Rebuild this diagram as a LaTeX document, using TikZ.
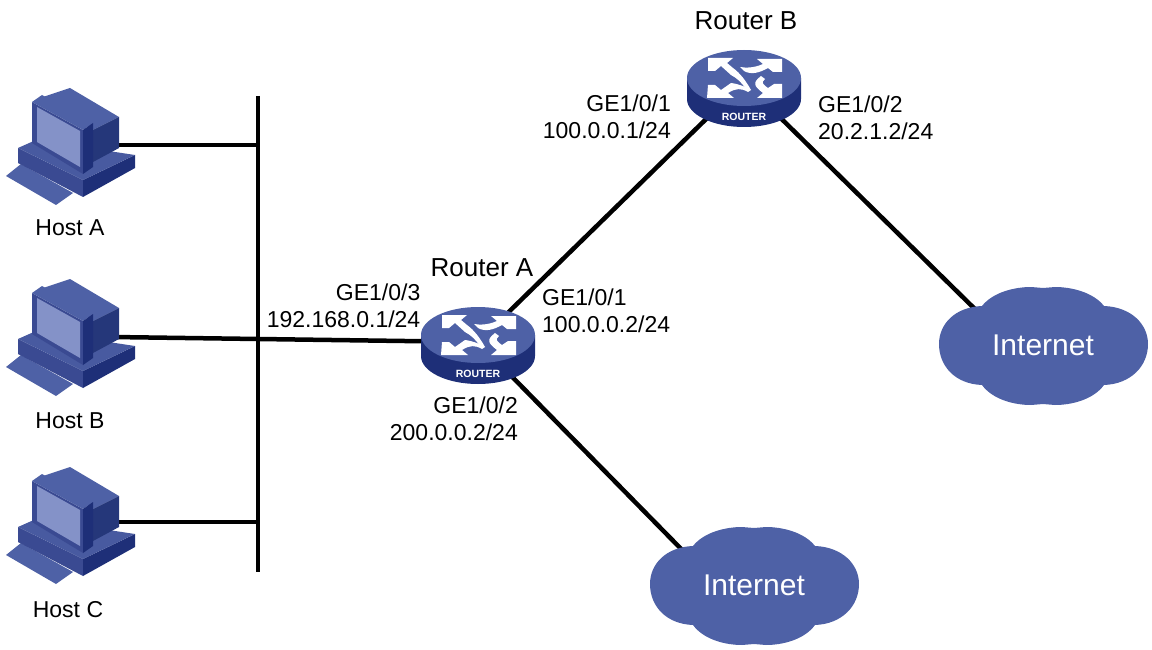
\documentclass[tikz,border=0pt]{standalone}
\usepackage{fontspec}
\setmainfont{Liberation Sans}
\definecolor{iconblue}{HTML}{4E61A6}
\definecolor{icondark}{HTML}{1E2F78}
\definecolor{iconmid}{HTML}{3A4A92}
\definecolor{iconnavy}{HTML}{25377A}
\definecolor{iconscreen}{HTML}{8492C8}
\tikzset{
 wire/.style={line width=4.5pt,black},
 lab/.style={font=\fontsize{23}{27}\selectfont,inner sep=0pt,text=black},
 hostcomputer/.pic={
  \fill[iconblue] (6,96)--(21,84)--(73,113)--(56,125)--cycle;
  \fill[iconmid] (18,68)--(83,100)--(83,117)--(18,83)--cycle;
  \fill[icondark] (83,100)--(135,75)--(135,88)--(83,117)--cycle;
  \fill[iconblue!70!iconmid] (18,68)--(36,60)--(135,75)--(83,100)--cycle;
  \fill[iconblue] (43,17)--(70,8)--(119,37)--(93,50)--cycle;
  \fill[iconnavy] (93,50)--(119,37)--(119,68)--(93,82)--cycle;
  \fill[iconmid] (32,22)--(83,50)--(83,94)--(32,63)--cycle;
  \fill[iconblue] (32,22)--(42,15)--(93,43)--(83,50)--cycle;
  \fill[icondark] (83,50)--(93,43)--(93,87)--(83,94)--cycle;
  \fill[iconscreen] (37,27)--(80,51)--(80,87)--(37,62)--cycle;
 },
 routericon/.pic={
  \fill[icondark] (-57,0) -- (-57,21) arc[start angle=180,end angle=0,x radius=57,y radius=28] -- (57,0) -- cycle;
  \fill[iconblue] (0,0) ellipse[x radius=57,y radius=28];
  \fill[white] (-36,-20)--(-11,-20)--(-17,-15)--(-11,-10) .. controls (-4,-5) and (2,3) .. (7,12)--(2,11) .. controls (-2,5) and (-7,0) .. (-13,-3)--(-23,-12)--(-29,-7)--(-36,-7)--cycle;
  \fill[white] (38,-19)--(13,-19)--(19,-14) .. controls (10,-10) and (2,-10) .. (-4,-11)--(0,-7) .. controls (7,-3) and (15,-5) .. (24,-10)--(29,-6)--(38,-6)--cycle;
  \fill[white] (-37,20)--(-36,7)--(-29,7)--(-23,12)--(-13,5) .. controls (-5,6) and (2,9) .. (7,12)--(4,14) .. controls (-3,10) and (-8,10) .. (-16,15)--(-10,20)--cycle;
  \fill[white] (38,20)--(13,20)--(19,15) .. controls (10,8) and (8,5) .. (17,-2)--(21,1) .. controls (16,5) and (20,7) .. (24,10)--(30,6)--(38,6)--cycle;
  \node[font=\bfseries\fontsize{10.5}{12}\selectfont,text=white,inner sep=0] at (0,39) {ROUTER};
 },
 cloudicon/.pic={
  \fill[iconblue] (-61,-40) .. controls (-50,-54) and (-28,-59) .. (-12,-59)
   -- (0,-58) -- (12,-59)
   .. controls (28,-59) and (50,-54) .. (61,-40)
   .. controls (88,-39) and (105,-22) .. (105,-2)
   .. controls (105,20) and (88,38) .. (61,39)
   .. controls (50,54) and (28,59) .. (12,59)
   -- (0,58) -- (-12,59)
   .. controls (-28,59) and (-50,54) .. (-61,39)
   .. controls (-88,38) and (-104,20) .. (-104,-2)
   .. controls (-104,-22) and (-88,-39) .. (-61,-40) -- cycle;
  \node[text=white,font=\fontsize{30}{34}\selectfont,inner sep=0] at (0,-1) {Internet};
 }
}
\begin{document}
\begin{tikzpicture}[x=1pt,y=-1pt]
\useasboundingbox (0,0) rectangle (1152,650);
\coordinate (hA) at (112,145);
\coordinate (hB) at (112,337);
\coordinate (hC) at (112,522);
\coordinate (bAt) at (258,96);
\coordinate (bAb) at (258,572);
\coordinate (bA) at (258,145);
\coordinate (bC) at (258,522);
\coordinate (rA) at (478,342);
\coordinate (rB) at (744,82);
\coordinate (cA) at (690,558);
\coordinate (cB) at (982,316);
\draw[wire] (bAt) -- (bAb);
\draw[wire] (hA) -- (bA);
\draw[wire] (hB) -- (rA);
\draw[wire] (hC) -- (bC);
\draw[wire] (rA) -- (rB);
\draw[wire] (rA) -- (cA);
\draw[wire] (rB) -- (cB);
\pic at (0,80) {hostcomputer};
\pic at (0,271) {hostcomputer};
\pic at (0,459) {hostcomputer};
\pic at (478,335) {routericon};
\pic at (744,78) {routericon};
\pic at (1043,346) {cloudicon};
\pic at (754,586) {cloudicon};
\node[lab] (lhA) at (70,228) {Host A};
\node[lab] (lhB) at (70,421) {Host B};
\node[lab] (lhC) at (68,610) {Host C};
\node[lab,font=\fontsize{26}{30}\selectfont] (lrA) at (482,268) {Router A};
\node[lab,font=\fontsize{26}{30}\selectfont] (lrB) at (746,21) {Router B};
\node[lab,align=right,anchor=east] (l2) at (671,116.5) {GE1/0/1\\100.0.0.1/24};
\node[lab,align=left,anchor=west] (l3) at (818,118) {GE1/0/2\\20.2.1.2/24};
\node[lab,align=left,anchor=west] (l4) at (542,311) {GE1/0/1\\100.0.0.2/24};
\node[lab,align=right,anchor=east] (l5) at (420.5,306) {GE1/0/3\\192.168.0.1/24};
\node[lab,align=right,anchor=east] (l6) at (518,419) {GE1/0/2\\200.0.0.2/24};
\end{tikzpicture}
\end{document}
